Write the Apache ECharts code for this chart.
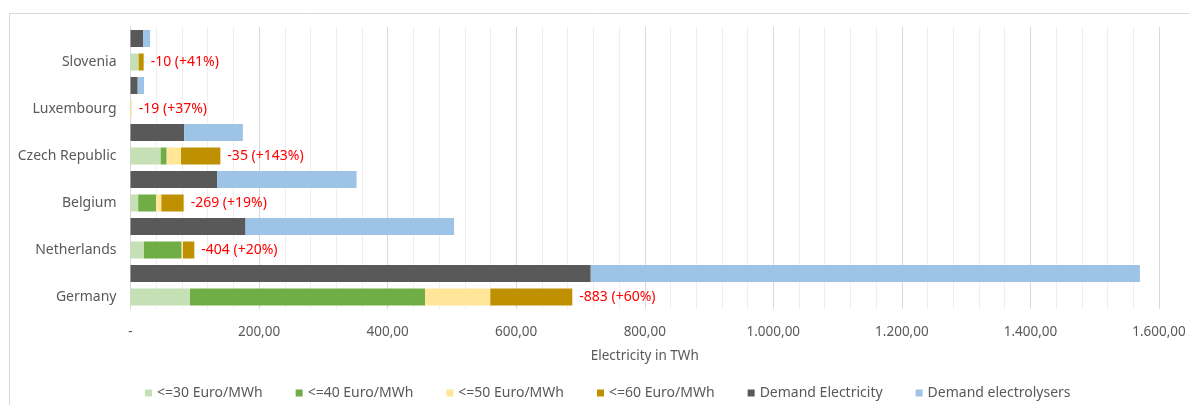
<!DOCTYPE html>
<html>
<head>
<meta charset="utf-8">
<title>Electricity supply and demand</title>
<script src="https://cdn.jsdelivr.net/npm/echarts@6/dist/echarts.min.js"></script>
<style>
  html, body { margin: 0; padding: 0; background: #ffffff; }
  #chart { width: 1189px; height: 405px; }
</style>
</head>
<body>
<div id="chart"></div>
<script>
// Countries, bottom to top
const countries = ['Germany', 'Netherlands', 'Belgium', 'Czech Republic', 'Luxembourg', 'Slovenia'];

// Supply available at price levels, TWh
const upTo30 = [92.6, 21.0, 12.0, 47.0, 0, 12.7];
const upTo40 = [365.6, 58.6, 27.7, 9.3, 0, 0];
const upTo50 = [101.6, 2.0, 8.3, 22.3, 2.0, 0];
const upTo60 = [127.5, 17.7, 34.7, 61.2, 0, 7.8];

// Demand, TWh
const demandElectricity = [716.0, 179.0, 134.6, 83.7, 11.2, 20.0];
const demandElectrolysers = [854.3, 324.3, 217.1, 91.1, 9.8, 10.5];

// Percentage shown in brackets next to each gap
const gapPercent = [60, 20, 19, 143, 37, 41];

// Value axis ticks
const xMin = 0, xMax = 1600, xStep = 200;

const supplyNames = ['<=30 Euro/MWh', '<=40 Euro/MWh', '<=50 Euro/MWh', '<=60 Euro/MWh'];
const supplyData = [upTo30, upTo40, upTo50, upTo60];
const supplyColors = ['#c5e0b4', '#70ad47', '#ffe699', '#bf9000'];
const demandNames = ['Demand Electricity', 'Demand electrolysers'];
const demandData = [demandElectricity, demandElectrolysers];
const demandColors = ['#595959', '#9dc3e6'];

// Each country gets two rows: supply (labelled) and demand just above it
const rows = [];
countries.forEach(c => { rows.push(c); rows.push(c + ' demand'); });

function supplyRow(arr) {
  const out = [];
  arr.forEach(v => { out.push(v); out.push('-'); });
  return out;
}
function demandRow(arr) {
  const out = [];
  arr.forEach(v => { out.push('-'); out.push(v); });
  return out;
}

function gapLabel(i) {
  const supply = upTo30[i] + upTo40[i] + upTo50[i] + upTo60[i];
  const demand = demandElectricity[i] + demandElectrolysers[i];
  const gap = Math.round(supply - demand);
  return gap + ' (+' + gapPercent[i] + '%)';
}

function deNumber(v) {
  if (v === 0) return '-';
  const fixed = v.toFixed(2).split('.');
  const intPart = fixed[0].replace(/\B(?=(\d{3})+(?!\d))/g, '.');
  return intPart + ',' + fixed[1];
}

const font = 'Noto Sans';
const textColor = '#595959';

const series = [];
supplyNames.forEach((name, k) => {
  const s = {
    name: name,
    type: 'bar',
    stack: 'all',
    barWidth: 17,
    data: supplyRow(supplyData[k]),
    itemStyle: { color: supplyColors[k] },
    emphasis: { disabled: true },
    animation: false
  };
  if (k === supplyNames.length - 1) {
    s.label = {
      show: true,
      position: 'right',
      distance: 7,
      color: '#ff0000',
      fontFamily: font,
      fontSize: 14,
      formatter: p => (p.dataIndex % 2 === 0 ? gapLabel(p.dataIndex / 2) : '')
    };
  }
  series.push(s);
});
demandNames.forEach((name, k) => {
  series.push({
    name: name,
    type: 'bar',
    stack: 'all',
    barWidth: 17,
    data: demandRow(demandData[k]),
    itemStyle: { color: demandColors[k] },
    emphasis: { disabled: true },
    animation: false
  });
});

const chart = echarts.init(document.getElementById('chart'), null, { renderer: 'canvas' });
chart.setOption({
  animation: false,
  backgroundColor: '#ffffff',
  textStyle: { fontFamily: font },
  graphic: [{
    type: 'rect',
    shape: { x: 9.5, y: 13.5, width: 1200, height: 420 },
    style: { fill: 'none', stroke: '#d9d9d9', lineWidth: 1 },
    silent: true,
    z: -1
  }],
  grid: { left: 130.5, right: 30, top: 26.75, bottom: 96.25, containLabel: false },
  legend: {
    data: supplyNames.concat(demandNames),
    left: 140,
    top: 381,
    icon: 'rect',
    itemWidth: 7,
    itemHeight: 7,
    itemGap: 33,
    textStyle: { color: textColor, fontSize: 14, fontFamily: font },
    selectedMode: false
  },
  xAxis: {
    type: 'value',
    min: xMin,
    max: xMax,
    interval: xStep,
    name: 'Electricity in TWh',
    nameLocation: 'middle',
    nameGap: 40,
    nameTextStyle: { color: textColor, fontSize: 13.5, fontFamily: font },
    axisLine: { show: false },
    axisTick: { show: false },
    axisLabel: { color: textColor, fontSize: 13.5, fontFamily: font, margin: 16, formatter: deNumber },
    splitLine: { show: true, lineStyle: { color: '#d9d9d9', width: 1 } },
    minorTick: { show: false, splitNumber: 5 },
    minorSplitLine: { show: true, lineStyle: { color: '#efefef', width: 1 } }
  },
  yAxis: {
    type: 'category',
    data: rows,
    axisLine: { show: true, lineStyle: { color: '#d9d9d9' } },
    axisTick: { show: false },
    splitLine: { show: false },
    axisLabel: {
      interval: 0,
      margin: 14,
      color: textColor,
      fontSize: 14,
      fontFamily: font,
      formatter: (v, i) => (i % 2 === 0 ? v : '')
    }
  },
  series: series
});
</script>
</body>
</html>
